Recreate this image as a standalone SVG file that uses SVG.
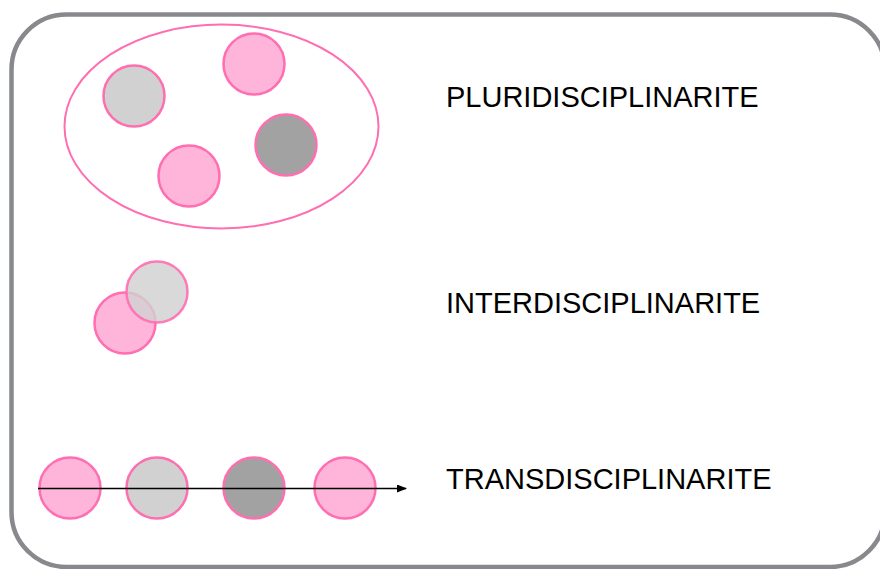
<svg xmlns="http://www.w3.org/2000/svg" width="880" height="569" viewBox="0 0 880 569">
<style>
.c{stroke:#ff6eb1;stroke-width:2.5}
.p{fill:#ffb5d9}
.g{fill:#d1d1d1}
.d{fill:#a2a2a2}
.t{font-family:"Liberation Sans",Arial,sans-serif;font-size:29px;fill:#000}
</style>
<defs>
<marker id="ah" markerWidth="10" markerHeight="8" refX="9" refY="4" orient="auto" markerUnits="userSpaceOnUse">
<path d="M0,0 L10,4 L0,8 Z" fill="#000"/>
</marker>
</defs>
<rect x="11.5" y="14.5" width="873.5" height="552.5" rx="55" ry="55" fill="#fff" stroke="#87898c" stroke-width="4.5"/>
<g id="pluri">
<ellipse cx="221.5" cy="126.5" rx="157" ry="102" fill="none" stroke="#ff6eb1" stroke-width="2"/>
<circle class="c g" cx="134" cy="96" r="30.5"/>
<circle class="c p" cx="254" cy="64" r="30.5"/>
<circle class="c d" cx="286" cy="145" r="30.5"/>
<circle class="c p" cx="189" cy="176" r="30.5"/>
</g>
<g id="inter">
<circle class="c p" cx="125" cy="323" r="30.5"/>
<circle class="c g" cx="157" cy="292" r="30.5" fill-opacity="0.82" stroke-opacity="0.9"/>
</g>
<g id="trans">
<circle class="c p" cx="70" cy="488" r="30.5"/>
<circle class="c g" cx="157" cy="488" r="30.5"/>
<circle class="c d" cx="254" cy="488" r="30.5"/>
<circle class="c p" cx="345" cy="488" r="30.5"/>
</g>
<g id="connectors">
<line x1="38" y1="488.5" x2="406" y2="488.5" stroke="#000" stroke-width="1.3" marker-end="url(#ah)"/>
</g>
<g id="labels">
<text class="t" x="446" y="107">PLURIDISCIPLINARITE</text>
<text class="t" x="446" y="313">INTERDISCIPLINARITE</text>
<text class="t" x="446" y="489">TRANSDISCIPLINARITE</text>
</g>
</svg>
